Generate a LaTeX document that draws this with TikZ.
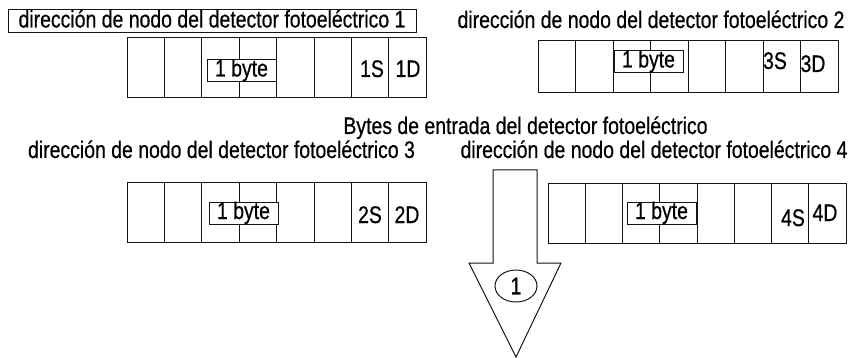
\documentclass[tikz,border=0pt]{standalone}
\usepackage{fontspec}
\setmainfont{Liberation Sans}[FakeStretch=0.81,FakeBold=0.6]
\usetikzlibrary{shapes.geometric}
\definecolor{FrameClr}{rgb}{0.08,0.08,0.08}

\begin{document}
\begin{tikzpicture}[x=1pt,y=-1pt,line width=1pt,
  every node/.style={font=\fontsize{24}{28}\selectfont,inner sep=0pt,outer sep=0pt},
  cell/.style={draw=FrameClr,anchor=north west},
  bytebox/.style={draw=FrameClr,fill=white,minimum width=69pt,minimum height=22pt,
                  text height=16.5pt,text depth=4.5pt},
  title/.style={anchor=base}]
\useasboundingbox (0,0) rectangle (861,358);

% registros de entrada
\foreach \r/\x/\y/\h/\w in {1/127/38/60/37.4,2/538/41/52/37.5,3/127/182/60/37.4,4/548/183/60/37.25}
  \foreach \i in {1,...,8}
    \node[cell,minimum width=\w pt,minimum height=\h pt] (r\r c\i) at ({\x+(\i-1)*\w},\y) {};

\node[bytebox] (b1) at (241.5,70.5) {1 byte};
\node[bytebox] (b2) at (648.5,61.5) {1 byte};
\node[bytebox] (b3) at (243.5,213) {1 byte};
\node[bytebox] (b4) at (661.5,213) {1 byte};

\node[title] (s1) at (372,77) {1S};
\node[title] (d1) at (408,77) {1D};
\node[title] (s3) at (775,69) {3S};
\node[title] (d3) at (813,72) {3D};
\node[title] (s2) at (370,223) {2S};
\node[title] (d2) at (407,223) {2D};
\node[title] (s4) at (793,226) {4S};
\node[title] (d4) at (825,221) {4D};

% direcciones
\node[draw=FrameClr,minimum width=408pt,minimum height=23pt,text height=16.5pt,text depth=4.5pt]
  (dir1) at (212,21.5) {direcci\'on de nodo del detector fotoel\'ectrico 1};
\node[title] (dir2) at (651,28) {direcci\'on de nodo del detector fotoel\'ectrico 2};
\node[title] (bytes) at (525.5,134) {Bytes de entrada del detector fotoel\'ectrico};
\node[title] (dir3) at (221.5,158) {direcci\'on de nodo del detector fotoel\'ectrico 3};
\node[title] (dir4) at (654,158) {direcci\'on de nodo del detector fotoel\'ectrico 4};

% flecha
\draw[FrameClr] (493,170) -- (537,170) -- (537,263) -- (561,263) -- (516,357)
  -- (469,263) -- (493,263) -- cycle;
\node[draw=FrameClr,ellipse,minimum width=42pt,minimum height=32pt] (n1) at (516,286) {1};

\end{tikzpicture}
\end{document}
